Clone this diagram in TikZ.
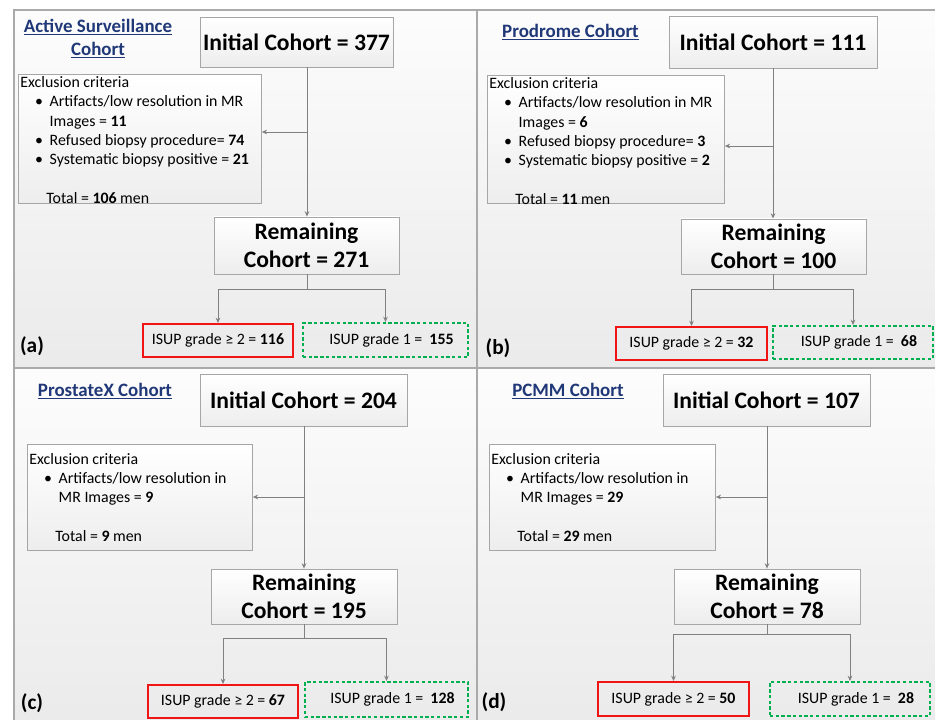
\documentclass[tikz,border=0pt]{standalone}
\usepackage{fontspec}
\setmainfont{Carlito}
\usetikzlibrary{arrows.meta}
\definecolor{titleblue}{RGB}{32,56,120}
\definecolor{framegray}{RGB}{170,170,170}
\definecolor{linegray}{RGB}{128,128,128}
\definecolor{isupred}{RGB}{240,20,20}
\definecolor{isupgreen}{RGB}{0,176,80}

\begin{document}
\begin{tikzpicture}[x=0.75pt,y=-0.75pt,
  panel/.style={draw=framegray,line width=1.2pt,top color=black!1,bottom color=black!8},
  cohort/.style={draw=black!35,line width=0.6pt,top color=white,bottom color=black!7,inner sep=0pt,font=\fontsize{17.7}{21}\selectfont\bfseries,align=center},
  exclbox/.style={draw=black!35,line width=0.6pt,top color=white,bottom color=black!7,anchor=north west,inner xsep=1.5pt,inner ysep=1.5pt,font=\fontsize{11.9}{14.5}\selectfont},
  grade/.style={line width=1.5pt,inner sep=0pt,font=\fontsize{11.9}{14}\selectfont},
  highgrade/.style={grade,draw=isupred},
  lowgrade/.style={grade,draw=isupgreen,dash pattern=on 2.5pt off 1.8pt},
  heading/.style={text=titleblue,font=\fontsize{14.2}{17.3}\selectfont\bfseries,align=center},
  panellabel/.style={font=\fontsize{16}{19}\selectfont\bfseries},
  flow/.style={draw=linegray,line width=0.7pt},
  arr/.style={flow,-{Stealth[length=4pt,width=3.5pt]}}]

\useasboundingbox (0,0) rectangle (935,720);
\fill[white] (0,0) rectangle (935,720);

\path[panel] (14,10) rectangle (477,368);
\path[panel] (477,10) rectangle (937,368);
\path[panel] (14,368) rectangle (477,722);
\path[panel] (477,368) rectangle (937,722);

% (a) active surveillance
\node[heading] (titlea) at (98,38.5) {\underline{Active Surveillance}\\\underline{Cohort}};
\node[cohort,minimum width=144.75pt,minimum height=37.5pt] (inita) at (296.5,42) {Initial Cohort = 377};
\node[exclbox] (excla) at (18,74) {\parbox[c][93.75pt][t]{179.25pt}{Exclusion criteria\\
\hspace*{11pt}\makebox[11pt][l]{\textbullet}Artifacts/low resolution in MR\\
\hspace*{22pt}Images = \textbf{11}\\
\hspace*{11pt}\makebox[11pt][l]{\textbullet}Refused biopsy procedure= \textbf{74}\\
\hspace*{11pt}\makebox[11pt][l]{\textbullet}Systematic biopsy positive = \textbf{21}\\[14.5pt]
\hspace*{19.5pt}Total = \textbf{106} men}};
\node[cohort,minimum width=138.75pt,minimum height=42.75pt] (remaina) at (306.5,245.5) {Remaining\\Cohort = 271};
\node[highgrade,minimum width=112.5pt,minimum height=24.75pt] (reda) at (218,340.5) {ISUP grade ≥ 2 = \textbf{116}};
\node[lowgrade,minimum width=123.75pt,minimum height=25.5pt] (greena) at (385.5,340) {\hspace*{9pt}ISUP grade 1 = \ \textbf{155}};
\node[panellabel] (laba) at (32,346) {(a)};

\coordinate (splita) at (307,132);
\coordinate (forka) at (307,289);
\draw[flow] (inita.south -| splita) -- (splita);
\draw[arr] (splita) -- (remaina.north -| splita);
\draw[arr] (splita) -- (splita -| excla.east);
\draw[flow] (remaina.south -| forka) -- (forka);
\draw[arr] (forka) -| (reda.north);
\draw[arr] (forka) -| (greena.north);

% (b) prodrome
\node[heading] (titleb) at (570.5,32) {\underline{Prodrome Cohort}};
\node[cohort,minimum width=156pt,minimum height=39pt] (initb) at (773,42) {Initial Cohort = 111};
\node[exclbox] (exclb) at (487,75) {\parbox[c][93pt][t]{174.75pt}{Exclusion criteria\\
\hspace*{11pt}\makebox[11pt][l]{\textbullet}Artifacts/low resolution in MR\\
\hspace*{22pt}Images = \textbf{6}\\
\hspace*{11pt}\makebox[11pt][l]{\textbullet}Refused biopsy procedure= \textbf{3}\\
\hspace*{11pt}\makebox[11pt][l]{\textbullet}Systematic biopsy positive = \textbf{2}\\[14.5pt]
\hspace*{19.5pt}Total = \textbf{11} men}};
\node[cohort,minimum width=138.75pt,minimum height=41.25pt] (remainb) at (773.5,246.5) {Remaining\\Cohort = 100};
\node[highgrade,minimum width=113.25pt,minimum height=24.75pt] (redb) at (691.5,343.5) {ISUP grade ≥ 2 = \textbf{32}};
\node[lowgrade,minimum width=120pt,minimum height=24.75pt] (greenb) at (853,342.5) {\hspace*{9pt}ISUP grade 1 = \ \textbf{68}};
\node[panellabel] (labb) at (498,348) {(b)};

\coordinate (splitb) at (773,146);
\coordinate (forkb) at (773,289);
\draw[flow] (initb.south -| splitb) -- (splitb);
\draw[arr] (splitb) -- (remainb.north -| splitb);
\draw[arr] (splitb) -- (splitb -| exclb.east);
\draw[flow] (remainb.south -| forkb) -- (forkb);
\draw[arr] (forkb) -| (redb.north);
\draw[arr] (forkb) -| (greenb.north);

% (c) prostatex
\node[heading] (titlec) at (105,391) {\underline{ProstateX Cohort}};
\node[cohort,minimum width=155.25pt,minimum height=39pt] (initc) at (303.5,400) {Initial Cohort = 204};
\node[exclbox] (exclc) at (27,444) {\parbox[c][76.5pt][t]{165.75pt}{\vspace*{5pt}Exclusion criteria\\
\hspace*{11pt}\makebox[11pt][l]{\textbullet}Artifacts/low resolution in\\
\hspace*{22pt}MR Images = \textbf{9}\\[14.5pt]
\hspace*{19.5pt}Total = \textbf{9} men}};
\node[cohort,minimum width=139.5pt,minimum height=41.25pt] (remainc) at (304,596.5) {Remaining\\Cohort = 195};
\node[highgrade,minimum width=112.5pt,minimum height=24.75pt] (redc) at (223,701.5) {ISUP grade ≥ 2 = \textbf{67}};
\node[lowgrade,minimum width=122.25pt,minimum height=26.25pt] (greenc) at (386.5,699.5) {\hspace*{9pt}ISUP grade 1 = \ \textbf{128}};
\node[panellabel] (labc) at (32,703) {(c)};

\coordinate (splitc) at (304,497);
\coordinate (forkc) at (304,638);
\draw[flow] (initc.south -| splitc) -- (splitc);
\draw[arr] (splitc) -- (remainc.north -| splitc);
\draw[arr] (splitc) -- (splitc -| exclc.east);
\draw[flow] (remainc.south -| forkc) -- (forkc);
\draw[arr] (forkc) -| (redc.north);
\draw[arr] (forkc) -| (greenc.north);

% (d) pcmm
\node[heading] (titled) at (568,391) {\underline{PCMM Cohort}};
\node[cohort,minimum width=155.25pt,minimum height=39pt] (initd) at (766.5,400) {Initial Cohort = 107};
\node[exclbox] (excld) at (489,444) {\parbox[c][76.5pt][t]{166.5pt}{\vspace*{5pt}Exclusion criteria\\
\hspace*{11pt}\makebox[11pt][l]{\textbullet}Artifacts/low resolution in\\
\hspace*{22pt}MR Images = \textbf{29}\\[14.5pt]
\hspace*{19.5pt}Total = \textbf{29} men}};
\node[cohort,minimum width=139.5pt,minimum height=41.25pt] (remaind) at (767,596.5) {Remaining\\Cohort = 78};
\node[highgrade,minimum width=113.25pt,minimum height=25.5pt] (redd) at (673.5,699) {ISUP grade ≥ 2 = \textbf{50}};
\node[lowgrade,minimum width=120pt,minimum height=25.5pt] (greend) at (850,699) {\hspace*{9pt}ISUP grade 1 = \ \textbf{28}};
\node[panellabel] (labd) at (494,702) {(d)};

\coordinate (splitd) at (767,497);
\coordinate (forkd) at (767,634);
\draw[flow] (initd.south -| splitd) -- (splitd);
\draw[arr] (splitd) -- (remaind.north -| splitd);
\draw[arr] (splitd) -- (splitd -| excld.east);
\draw[flow] (remaind.south -| forkd) -- (forkd);
\draw[arr] (forkd) -| (redd.north);
\draw[arr] (forkd) -| (greend.north);

\end{tikzpicture}
\end{document}
